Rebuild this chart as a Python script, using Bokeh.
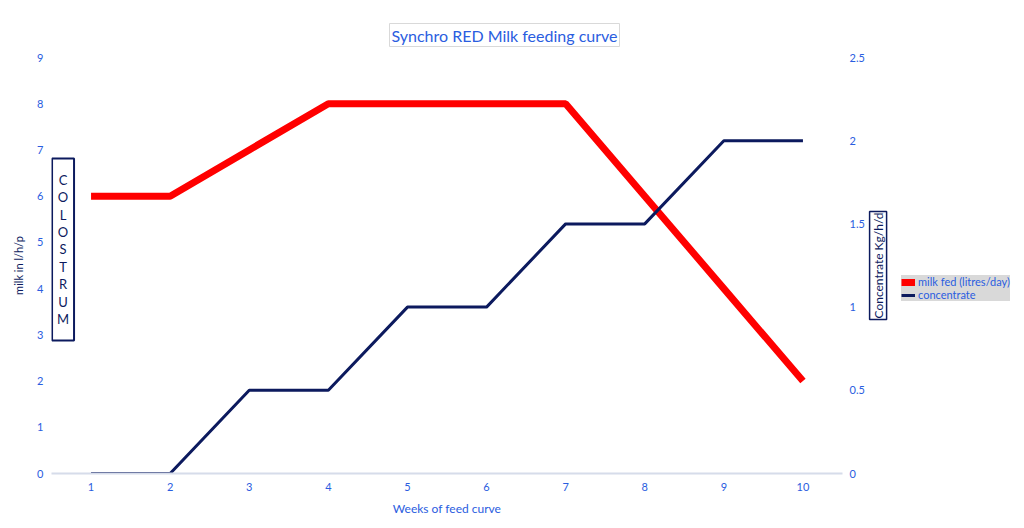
from math import pi
from bokeh.plotting import figure
from bokeh.models import (Range1d, LinearAxis, FixedTicker, Label, BoxAnnotation,
                          Legend, LegendItem)
from bokeh.embed import file_html
from bokeh.resources import INLINE

weeks = [1, 2, 3, 4, 5, 6, 7, 8, 9, 10]
milk = [6, 6, 7, 8, 8, 8, 8, 6, 4, 2]
concentrate = [0, 0, 0.5, 0.5, 1, 1, 1.5, 1.5, 2, 2]
milk_ticks = [0, 1, 2, 3, 4, 5, 6, 7, 8, 9]
conc_ticks = [0, 0.5, 1, 1.5, 2, 2.5]
conc_labels = ["0", "0.5", "1", "1.5", "2", "2.5"]

BLUE = "#2a5de0"
NAVY = "#0c1a5e"
RED = "#ff0000"
FONT = "Lato"

p = figure(frame_width=791, frame_height=416,
           x_range=Range1d(0.5, 10.5), y_range=Range1d(0, 9),
           output_backend="svg", toolbar_location=None,
           min_border_left=51, min_border_right=174,
           min_border_top=57, min_border_bottom=47)
p.outline_line_color = None
p.xgrid.grid_line_color = None
p.ygrid.grid_line_color = None

# title
p.title.text = "Synchro RED Milk feeding curve"
p.title.align = "left"
p.title.offset = 338
p.title.text_font = FONT
p.title.text_font_size = "16px"
p.title.text_font_style = "normal"
p.title.text_color = BLUE
p.title.standoff = 22
p.title.border_line_color = "#d9d9d9"
p.title.background_fill_color = "white"
p.title.padding = 2

# bottom axis
xa = p.xaxis[0]
xa.ticker = FixedTicker(ticks=weeks)
xa.axis_line_color = "#d6dcea"
xa.axis_line_width = 2
xa.major_tick_line_color = None
xa.major_tick_out = 0
xa.major_tick_in = 0
xa.minor_tick_line_color = None
xa.major_label_text_color = BLUE
xa.major_label_text_font = FONT
xa.major_label_text_font_size = "11px"
xa.major_label_standoff = 9
xa.axis_label = "Weeks of feed curve"
xa.axis_label_text_font = FONT
xa.axis_label_text_font_style = "normal"
xa.axis_label_text_font_size = "12px"
xa.axis_label_text_color = BLUE
xa.axis_label_standoff = 7

# left axis
ya = p.yaxis[0]
ya.ticker = FixedTicker(ticks=milk_ticks)
ya.axis_line_color = None
ya.major_tick_line_color = None
ya.major_tick_out = 0
ya.major_tick_in = 0
ya.minor_tick_line_color = None
ya.major_label_text_color = BLUE
ya.major_label_text_font = FONT
ya.major_label_text_font_size = "11px"
ya.major_label_standoff = 8
ya.axis_label = "milk in l/h/p"
ya.axis_label_text_font = FONT
ya.axis_label_text_font_style = "normal"
ya.axis_label_text_font_size = "11px"
ya.axis_label_text_color = NAVY
ya.axis_label_standoff = 9

# right axis (ticks)
p.extra_y_ranges = {"conc": Range1d(0, 2.5)}
ra = LinearAxis(y_range_name="conc", ticker=FixedTicker(ticks=conc_ticks),
                major_label_overrides={t: l for t, l in zip(conc_ticks, conc_labels)})
ra.axis_line_color = None
ra.major_tick_line_color = None
ra.major_tick_out = 0
ra.major_tick_in = 0
ra.minor_tick_line_color = None
ra.major_label_text_color = BLUE
ra.major_label_text_font = FONT
ra.major_label_text_font_size = "11px"
ra.major_label_standoff = 7
p.add_layout(ra, "right")

r1 = p.line(weeks, milk, line_color=RED, line_width=7)
r2 = p.line(weeks, concentrate, y_range_name="conc", line_color=NAVY, line_width=3)

legend = Legend(items=[LegendItem(label="milk fed (litres/day)", renderers=[r1]),
                       LegendItem(label="concentrate", renderers=[r2])],
                location=(-128, 172), orientation="vertical")
legend.background_fill_color = "#d9d9d9"
legend.background_fill_alpha = 1
legend.border_line_color = None
legend.label_text_color = BLUE
legend.label_text_font = FONT
legend.label_text_font_size = "11px"
legend.glyph_width = 14
legend.glyph_height = 10
legend.label_height = 12
legend.label_standoff = 3
legend.spacing = 0
legend.padding = 2
legend.margin = 0
p.add_layout(legend, "right")

# right axis title, boxed, placed in the right side panel (not clipped)
p.add_layout(Label(x=10.95, y=4.5, text="Concentrate Kg/h/d", angle=pi / 2,
                   text_font=FONT, text_font_size="12px", text_color=NAVY,
                   text_align="center", text_baseline="middle",
                   border_line_color=NAVY, border_line_width=1.5, padding=1),
             "right")

# colostrum box
p.add_layout(BoxAnnotation(left=0.507, right=0.785, bottom=2.877, top=6.815,
                           fill_alpha=0, line_color=NAVY, line_alpha=1, line_width=2))
p.add_layout(Label(x=0.646, y=4.846, text="C\nO\nL\nO\nS\nT\nR\nU\nM",
                   text_font=FONT, text_font_size="13px", text_color=NAVY,
                   text_align="center", text_baseline="middle",
                   text_line_height=1.09))

open("out.html", "w").write(file_html(p, INLINE))
